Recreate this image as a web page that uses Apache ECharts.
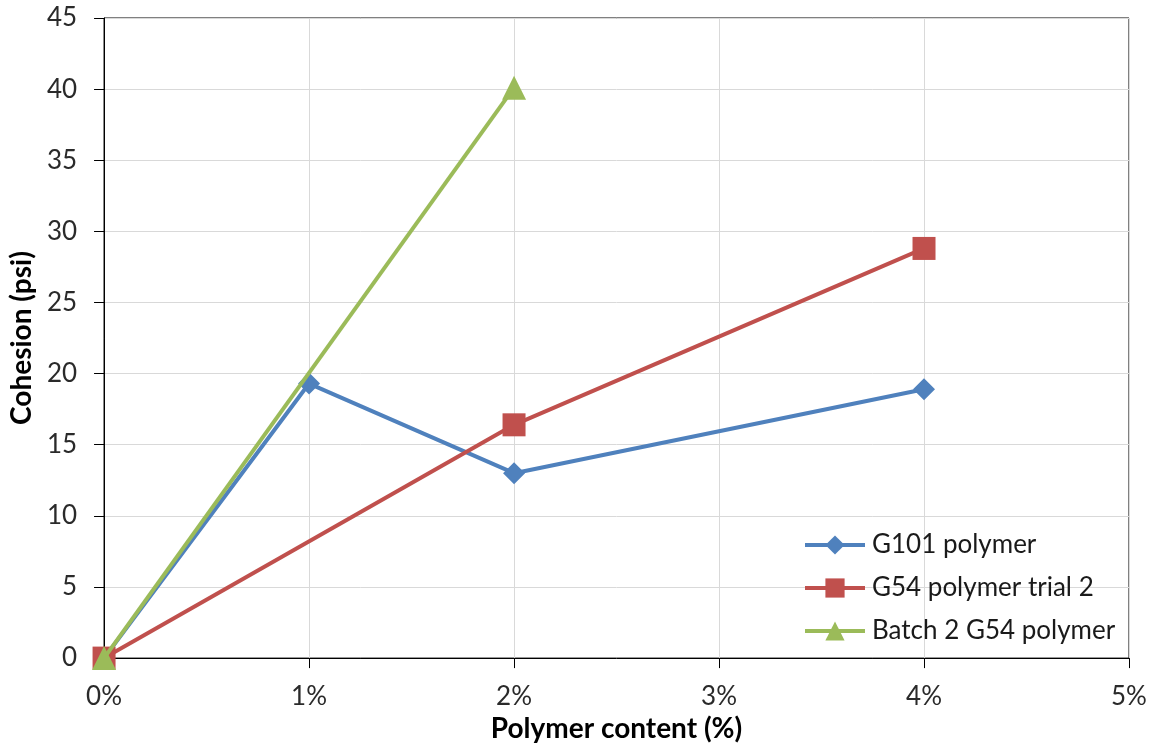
<!DOCTYPE html>
<html>
<head>
<meta charset="utf-8">
<script src="https://cdn.jsdelivr.net/npm/echarts@6/dist/echarts.min.js"></script>
<style>
html,body{margin:0;padding:0;background:#fff;}
#chart{width:1158px;height:748px;}
</style>
</head>
<body>
<div id="chart"></div>
<script>
// Data (x = polymer content as fraction, y = cohesion psi)
var g101X = [0, 0.01, 0.02, 0.04];
var g101Y = [0, 19.3, 13.0, 18.9];
var g54X = [0, 0.02, 0.04];
var g54Y = [0, 16.4, 28.8];
var batch2X = [0, 0.02];
var batch2Y = [0, 40.1];
var seriesNames = ['G101 polymer', 'G54 polymer trial 2', 'Batch 2 G54 polymer'];
var xTicks = ['0%', '1%', '2%', '3%', '4%', '5%'];

function pairs(xs, ys) { return xs.map(function (x, i) { return [x, ys[i]]; }); }

var FONT = 'Lato';
var chart = echarts.init(document.getElementById('chart'));
var colors = ['#4F81BD', '#C0504D', '#9BBB59'];
var symbols = ['diamond', 'rect', 'triangle'];
var symSizes = [22, 23, 24];
var dataSets = [pairs(g101X, g101Y), pairs(g54X, g54Y), pairs(batch2X, batch2Y)];

chart.setOption({
  animation: false,
  backgroundColor: '#fff',
  textStyle: { fontFamily: FONT },
  grid: { left: 104, right: 29, top: 18, bottom: 88, show: true, borderColor: '#000', borderWidth: 1, backgroundColor: 'transparent' },
  legend: {
    orient: 'vertical',
    left: 803, top: 532, padding: 0,
    itemWidth: 60, itemHeight: 24, itemGap: 17,
    data: seriesNames,
    lineStyle: { width: 4 },
    textStyle: { fontFamily: FONT, fontSize: 26, color: '#1a1a1a', padding: [0, 0, 0, 2] }
  },
  xAxis: {
    type: 'value', min: 0, max: 0.05, interval: 0.01,
    name: 'Polymer content (%)', nameLocation: 'middle', nameGap: 55,
    nameTextStyle: { fontFamily: FONT, fontSize: 28, fontWeight: 'bold', color: '#000' },
    axisLine: { show: true, lineStyle: { color: '#000', width: 1 } },
    axisTick: { show: true, inside: false, length: 10, lineStyle: { color: '#000' } },
    axisLabel: { fontFamily: FONT, fontSize: 26, color: '#2a2a2a', margin: 26,
      formatter: function (v) { return xTicks[Math.round(v * 100)]; } },
    splitLine: { show: true, lineStyle: { color: '#d9d9d9', width: 1 } }
  },
  yAxis: {
    type: 'value', min: 0, max: 45, interval: 5,
    name: 'Cohesion (psi)', nameLocation: 'middle', nameGap: 64, nameRotate: 90,
    nameTextStyle: { fontFamily: FONT, fontSize: 28, fontWeight: 'bold', color: '#000' },
    axisLine: { show: true, lineStyle: { color: '#000', width: 1 } },
    axisTick: { show: true, inside: false, length: 10, lineStyle: { color: '#000' } },
    axisLabel: { fontFamily: FONT, fontSize: 26, color: '#2a2a2a', margin: 27 },
    splitLine: { show: true, lineStyle: { color: '#d9d9d9', width: 1 } }
  },
  series: seriesNames.map(function (n, i) {
    return {
      name: n, type: 'line', data: dataSets[i],
      symbol: symbols[i], symbolSize: symSizes[i], showSymbol: true,
      lineStyle: { color: colors[i], width: 4 },
      itemStyle: { color: colors[i] },
      z: 2 + i
    };
  })
});
</script>
</body>
</html>
